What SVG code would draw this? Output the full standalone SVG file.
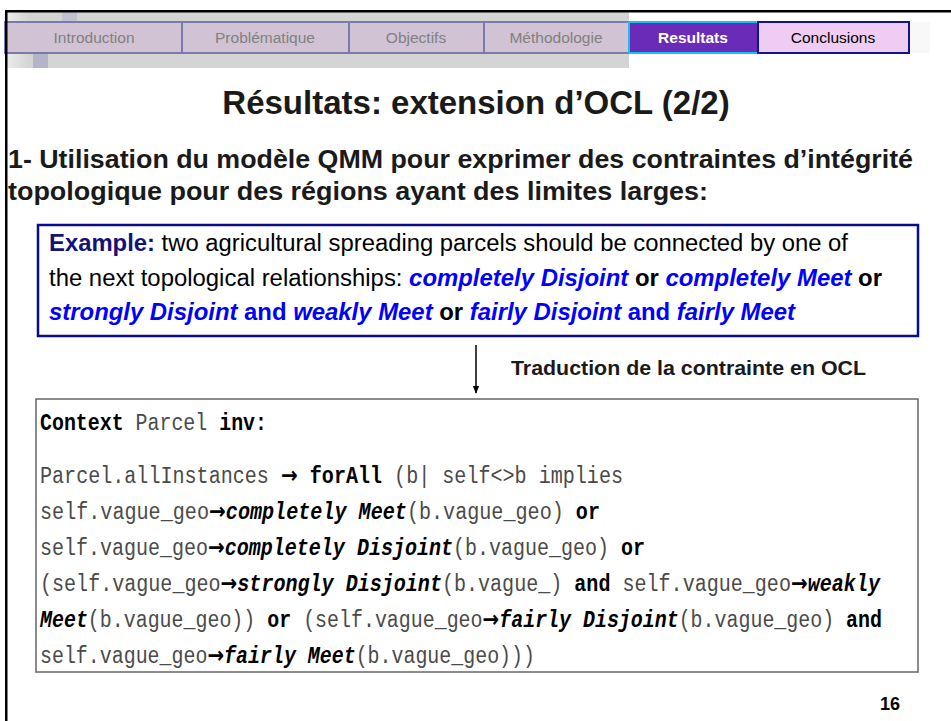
<svg xmlns="http://www.w3.org/2000/svg" width="951" height="721" viewBox="0 0 951 721">
<defs>
<style>
.tab{fill:#d1c3d4;stroke:#7b7aac;stroke-width:2}
.tabt{font-family:"Liberation Sans",Arial,sans-serif;font-size:15.5px;fill:#808080;text-anchor:middle}
.sans{font-family:"Liberation Sans",Arial,sans-serif}
.b{font-weight:bold}
.bi{font-weight:bold;font-style:italic;fill:#0000ff}
.code{font-family:"Liberation Mono","Courier New",monospace;font-size:23px;fill:#4a4a4a}
.kw{font-weight:bold;fill:#000}
.kwi{font-weight:bold;font-style:italic;fill:#000}
.arr{font-family:"DejaVu Sans",sans-serif;font-weight:bold;fill:#000}
</style>
<linearGradient id="lg" x1="0" x2="1" y1="0" y2="0">
<stop offset="0" stop-color="#ececec"/>
<stop offset="1" stop-color="#d4d4d4"/>
</linearGradient>
<marker id="ah" viewBox="0 0 10 10" refX="9" refY="5" markerWidth="8" markerHeight="8" orient="auto" markerUnits="userSpaceOnUse">
<path d="M0,1 L10,5 L0,9 z" fill="#000"/>
</marker>
</defs>
<rect width="951" height="721" fill="#fff"/>
<g id="header">
<rect x="7" y="12" width="622" height="56" fill="#d4d4d4"/>
<rect x="7" y="12" width="22" height="10" fill="url(#lg)"/>
<rect x="7" y="54" width="22" height="14" fill="url(#lg)"/>
<rect x="62" y="12" width="15" height="10" fill="#c2c1d1"/>
<rect x="33" y="54" width="15" height="14" fill="#b4b4c8"/>
<rect x="909" y="22" width="21" height="31" fill="#f8f8f8"/>
<g id="tab-intro"><rect class="tab" x="5" y="22" width="177" height="31"/><text class="tabt" x="94" y="43">Introduction</text></g>
<g id="tab-prob"><rect class="tab" x="182" y="22" width="167" height="31"/><text class="tabt" x="265" y="43">Problématique</text></g>
<g id="tab-obj"><rect class="tab" x="349" y="22" width="135" height="31"/><text class="tabt" x="416" y="43">Objectifs</text></g>
<g id="tab-meth"><rect class="tab" x="484" y="22" width="145" height="31"/><text class="tabt" x="556" y="43">Méthodologie</text></g>
<g id="tab-res"><rect x="629" y="22" width="129" height="31" fill="#6b2bb9" stroke="#17c0ee" stroke-width="2"/><text class="tabt b" x="693" y="43" style="fill:#fff">Resultats</text></g>
<g id="tab-concl"><rect x="758" y="22" width="151" height="31" fill="#efcdf3" stroke="#14148a" stroke-width="2"/><text class="tabt" x="833" y="43" style="fill:#000">Conclusions</text></g>
</g>
<rect x="5" y="10" width="946" height="2.5" fill="#000"/>
<rect x="5" y="10" width="2.5" height="711" fill="#000"/>
<text class="sans b" x="476" y="114" font-size="33" text-anchor="middle" fill="#1a1a1a">Résultats: extension d’OCL (2/2)</text>
<text class="sans b" x="8" y="168" font-size="25" fill="#1a1a1a" textLength="905" lengthAdjust="spacingAndGlyphs">1- Utilisation du modèle QMM pour exprimer des contraintes d’intégrité</text>
<text class="sans b" x="8" y="200" font-size="25" fill="#1a1a1a" textLength="700" lengthAdjust="spacingAndGlyphs">topologique pour des régions ayant des limites larges:</text>
<g id="example">
<rect x="38" y="225" width="880" height="111" fill="#fff" stroke="#0b0b8a" stroke-width="2.5"/>
<text class="sans" x="49" y="251" font-size="23" fill="#000" textLength="799" lengthAdjust="spacingAndGlyphs"><tspan class="b" fill="#12127a">Example:</tspan> two agricultural spreading parcels should be connected by one of</text>
<text class="sans" x="49" y="286" font-size="23" fill="#000" textLength="833" lengthAdjust="spacingAndGlyphs">the next topological relationships: <tspan class="bi">completely Disjoint</tspan><tspan class="b"> or </tspan><tspan class="bi">completely Meet</tspan><tspan class="b"> or</tspan></text>
<text class="sans" x="49" y="320" font-size="23" fill="#000" textLength="746" lengthAdjust="spacingAndGlyphs"><tspan class="bi">strongly Disjoint</tspan><tspan class="b" fill="#0000ff"> and </tspan><tspan class="bi">weakly Meet</tspan><tspan class="b"> or </tspan><tspan class="bi">fairly Disjoint</tspan><tspan class="b" fill="#0000ff"> and </tspan><tspan class="bi">fairly Meet</tspan></text>
</g>
<g id="connectors">
<line x1="476" y1="345" x2="476" y2="393" stroke="#000" stroke-width="1.5" marker-end="url(#ah)"/>
</g>
<text class="sans b" x="511" y="375" font-size="21" fill="#1a1a1a" textLength="355" lengthAdjust="spacingAndGlyphs">Traduction de la contrainte en OCL</text>
<g id="code">
<rect x="36" y="399" width="882" height="273" fill="#fff" stroke="#666" stroke-width="1.5"/>
<text class="code" x="40" y="430" textLength="227" lengthAdjust="spacingAndGlyphs"><tspan class="kw">Context</tspan> Parcel <tspan class="kw">inv:</tspan></text>
<text class="code" x="40" y="483" textLength="583" lengthAdjust="spacingAndGlyphs">Parcel.allInstances <tspan class="arr">→</tspan> <tspan class="kw">forAll</tspan> (b| self&lt;&gt;b implies</text>
<text class="code" x="40" y="519" textLength="560" lengthAdjust="spacingAndGlyphs">self.vague_geo<tspan class="arr">→</tspan><tspan class="kwi">completely Meet</tspan>(b.vague_geo) <tspan class="kw">or</tspan></text>
<text class="code" x="40" y="555" textLength="605" lengthAdjust="spacingAndGlyphs">self.vague_geo<tspan class="arr">→</tspan><tspan class="kwi">completely Disjoint</tspan>(b.vague_geo) <tspan class="kw">or</tspan></text>
<text class="code" x="40" y="591" textLength="840" lengthAdjust="spacingAndGlyphs">(self.vague_geo<tspan class="arr">→</tspan><tspan class="kwi">strongly Disjoint</tspan>(b.vague_) <tspan class="kw">and</tspan> self.vague_geo<tspan class="arr">→</tspan><tspan class="kwi">weakly</tspan></text>
<text class="code" x="40" y="627" textLength="842" lengthAdjust="spacingAndGlyphs"><tspan class="kwi">Meet</tspan>(b.vague_geo)) <tspan class="kw">or</tspan> (self.vague_geo<tspan class="arr">→</tspan><tspan class="kwi">fairly Disjoint</tspan>(b.vague_geo) <tspan class="kw">and</tspan></text>
<text class="code" x="40" y="663" textLength="495" lengthAdjust="spacingAndGlyphs">self.vague_geo<tspan class="arr">→</tspan><tspan class="kwi">fairly Meet</tspan>(b.vague_geo)))</text>
</g>
<text class="sans b" x="900" y="710" font-size="18" text-anchor="end" fill="#000">16</text>
</svg>
